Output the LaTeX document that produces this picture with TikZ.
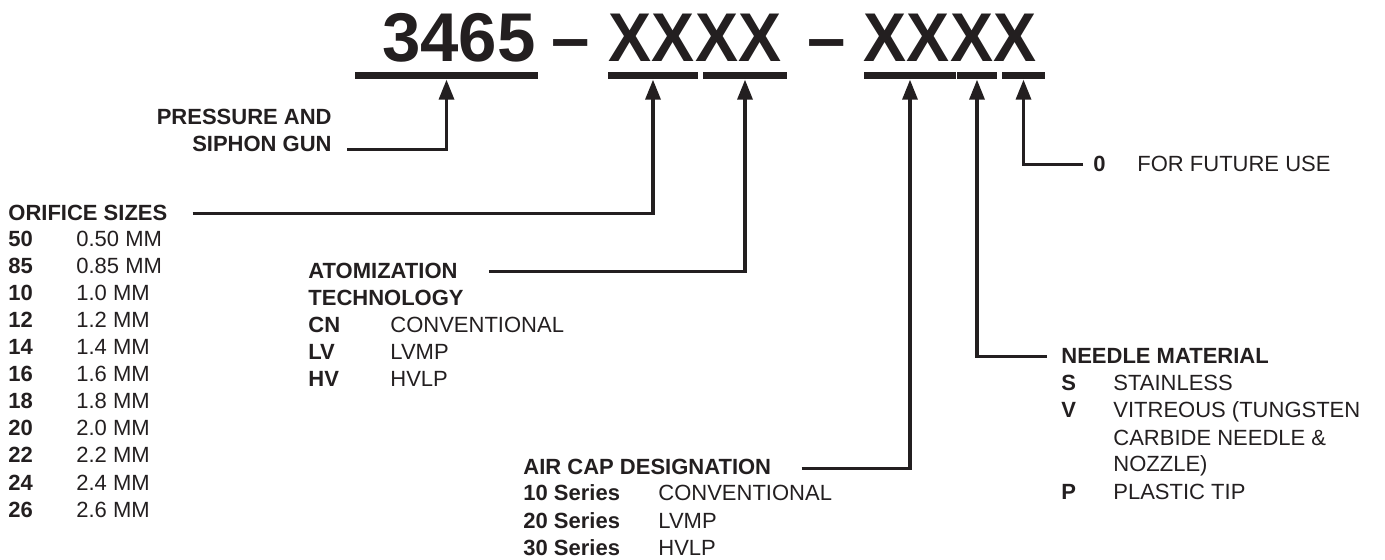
\documentclass[tikz,border=0pt]{standalone}
\usepackage{fontspec}
\setmainfont{Liberation Sans}
\usetikzlibrary{arrows.meta}
\definecolor{partink}{RGB}{35,31,32}
\begin{document}
\begin{tikzpicture}[x=0.5pt,y=-0.5pt,
  every node/.style={font=\fontsize{11}{13}\selectfont,inner sep=0pt,anchor=base west,text=partink},
  parthead/.style={font=\fontsize{11}{13}\selectfont\bfseries},
  parttitle/.style={font=\fontsize{34.5}{36}\selectfont\bfseries,anchor=base},
  codebar/.style={fill=partink,anchor=center,minimum height=3.75pt},
  leader/.style={partink,line width=1.65pt,-{Triangle[length=10pt,width=7.5pt]}}]
\useasboundingbox (0,0) rectangle (1385,560);
% part number
\node[parttitle] (t3465) at (459,62) {3465};
\node[parttitle] (tdash1) at (571,62) {–};
\node[parttitle] (tx1) at (695,62) {\scalebox{0.935}[1]{XXXX}};
\node[parttitle] (tdash2) at (827,62) {–};
\node[parttitle] (tx2) at (950,62) {\scalebox{0.935}[1]{XXXX}};
\node[codebar,minimum width=91.5pt] (bar1) at (446.5,75.5) {};
\node[codebar,minimum width=45pt] (bar2) at (653,75.5) {};
\node[codebar,minimum width=42pt] (bar3) at (745,75.5) {};
\node[codebar,minimum width=46pt] (bar4) at (910,75.5) {};
\node[codebar,minimum width=20pt] (bar5) at (977,75.5) {};
\node[codebar,minimum width=21.5pt] (bar6) at (1023.5,75.5) {};
% gun
\node[parthead,anchor=base east] (gun1) at (332,125) {PRESSURE AND};
\node[parthead,anchor=base east] (gun2) at (332,152) {SIPHON GUN};
\draw[leader] ([xshift=7.5pt,yshift=-2.5pt]gun2.east) -| (bar1.south);
% orifice sizes
\node[parthead] (ori) at (8,221) {ORIFICE SIZES};
\node[parthead] (ori50) at (8,247) {50}; \node (ori50d) at (76,247) {0.50 MM};
\node[parthead] (ori85) at (8,274) {85}; \node (ori85d) at (76,274) {0.85 MM};
\node[parthead] (ori10) at (8,301) {10}; \node (ori10d) at (76,301) {1.0 MM};
\node[parthead] (ori12) at (8,328) {12}; \node (ori12d) at (76,328) {1.2 MM};
\node[parthead] (ori14) at (8,355) {14}; \node (ori14d) at (76,355) {1.4 MM};
\node[parthead] (ori16) at (8,382) {16}; \node (ori16d) at (76,382) {1.6 MM};
\node[parthead] (ori18) at (8,409) {18}; \node (ori18d) at (76,409) {1.8 MM};
\node[parthead] (ori20) at (8,436) {20}; \node (ori20d) at (76,436) {2.0 MM};
\node[parthead] (ori22) at (8,463) {22}; \node (ori22d) at (76,463) {2.2 MM};
\node[parthead] (ori24) at (8,490) {24}; \node (ori24d) at (76,490) {2.4 MM};
\node[parthead] (ori26) at (8,517) {26}; \node (ori26d) at (76,517) {2.6 MM};
\draw[leader] ([xshift=12.5pt]ori.east) -| (bar2.south);
% atomization
\node[parthead] (ato1) at (308,279) {ATOMIZATION};
\node[parthead] (ato2) at (308,306) {TECHNOLOGY};
\node[parthead] (atoCN) at (308,333) {CN}; \node (atoCNd) at (390,333) {CONVENTIONAL};
\node[parthead] (atoLV) at (308,360) {LV}; \node (atoLVd) at (390,360) {LVMP};
\node[parthead] (atoHV) at (308,387) {HV}; \node (atoHVd) at (390,387) {HVLP};
\draw[leader] ([xshift=15.5pt]ato1.east) -| (bar3.south);
% air cap
\node[parthead] (cap) at (523,474) {AIR CAP DESIGNATION};
\node[parthead] (cap10) at (523,501) {10 Series}; \node (cap10d) at (658,501) {CONVENTIONAL};
\node[parthead] (cap20) at (523,528) {20 Series}; \node (cap20d) at (658,528) {LVMP};
\node[parthead] (cap30) at (523,555) {30 Series}; \node (cap30d) at (658,555) {HVLP};
\draw[leader] ([xshift=15pt,yshift=-1pt]cap.east) -| (bar4.south);
% needle
\node[parthead] (ndl) at (1061,364) {NEEDLE MATERIAL};
\node[parthead] (ndlS) at (1061,391) {S}; \node (ndlSd) at (1113,391) {STAINLESS};
\node[parthead] (ndlV) at (1061,418) {V}; \node (ndlVd) at (1113,418) {VITREOUS (TUNGSTEN};
\node (ndlVd2) at (1113,445) {CARBIDE NEEDLE \&};
\node (ndlVd3) at (1113,472) {NOZZLE)};
\node[parthead] (ndlP) at (1061,499) {P}; \node (ndlPd) at (1113,499) {PLASTIC TIP};
\draw[leader] ([xshift=-7pt]ndl.west) -| (bar5.south);
% future
\node[parthead] (fut0) at (1093,172) {0};
\node (futd) at (1137,172) {FOR FUTURE USE};
\draw[leader] ([xshift=-5pt]fut0.west) -| (bar6.south);
\end{tikzpicture}
\end{document}
